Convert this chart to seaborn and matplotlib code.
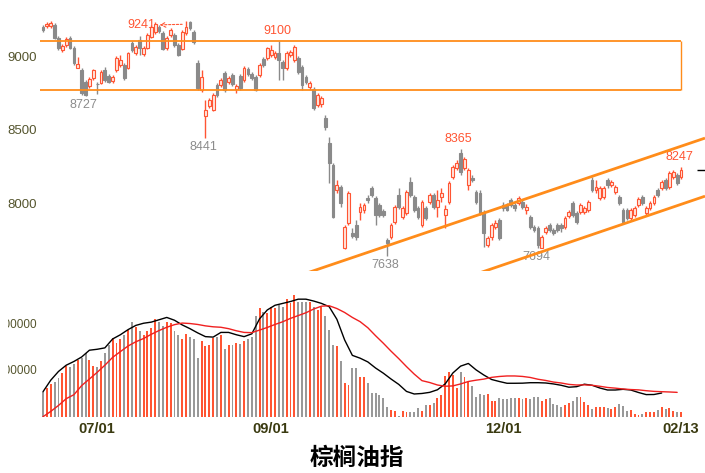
import matplotlib
matplotlib.use("Agg")
import matplotlib.pyplot as plt
import seaborn as sns
import numpy as np
import pandas as pd
from matplotlib.transforms import Bbox

# ---------------- data ----------------
opens = [9197, 9204, 9204, 9211, 9123, 9041, 9075, 9123, 9054, 8918,
         8905, 8823, 8796, 8850, 8812, 8816, 8905, 8864, 8830, 8905,
         8939, 8939, 8918, 9088, 9020, 9109, 9014, 9054, 9129, 9163,
         9197, 9156, 9054, 9143, 9143, 9075, 9048, 9156, 9231, 9163,
         8952, 8769, 8592, 8660, 8633, 8803, 8803, 8884, 8823, 8871,
         8776, 8864, 8837, 8912, 8878, 8857, 8871, 8980, 8986, 9007,
         8993, 9020, 8959, 8918, 9007, 8973, 8986, 8925, 8857, 8789,
         8776, 8667, 8673, 8578, 8408, 8259, 8089, 8109, 7694, 7864,
         7796, 7851, 7939, 7953, 8034, 8102, 8034, 7987, 7946, 7749,
         7769, 7871, 8055, 7905, 7932, 8143, 8041, 7966, 7851, 7966,
         8007, 8055, 7973, 8041, 7919, 8007, 8177, 8238, 8340, 8238,
         8123, 8170, 8075, 8068, 7939, 7715, 7769, 7837, 7885, 7987,
         7987, 8021, 7987, 8000, 8007, 7953, 7905, 7837, 7830, 7694,
         7803, 7851, 7817, 7851, 7851, 7837, 7912, 8000, 7932, 7939,
         7939, 7953, 8157, 8089, 8034, 8041, 8157, 8123, 8075, 8041,
         7953, 7953, 7898, 7919, 7987, 8041, 7932, 7966, 8000, 8089,
         8102, 8157, 8109, 8177, 8191, 8177]
highs = [9211, 9231, 9235, 9224, 9136, 9082, 9129, 9136, 9068, 8993,
         8918, 8837, 8857, 8912, 8820, 8905, 8925, 8878, 8871, 9000,
         9007, 8952, 9027, 9102, 9075, 9136, 9068, 9156, 9211, 9231,
         9211, 9170, 9136, 9190, 9156, 9088, 9177, 9241, 9238, 9177,
         8973, 8905, 8701, 8714, 8748, 8816, 8850, 8898, 8864, 8884,
         8810, 8878, 8932, 8925, 8891, 8871, 8952, 8993, 9061, 9075,
         9034, 9100, 8973, 9034, 9041, 9075, 9000, 8939, 8871, 8830,
         8789, 8748, 8728, 8599, 8449, 8272, 8157, 8123, 7851, 8082,
         7830, 7885, 8000, 8000, 8055, 8116, 8048, 8000, 7960, 7762,
         7864, 7987, 8102, 7980, 8089, 8177, 8055, 7980, 8021, 7980,
         8068, 8068, 8089, 8102, 7987, 8150, 8259, 8293, 8365, 8313,
         8238, 8191, 8089, 8089, 7953, 7776, 7864, 7885, 7898, 8007,
         8000, 8034, 8000, 8048, 8021, 7994, 7919, 7851, 7844, 7783,
         7844, 7864, 7830, 7864, 7864, 7912, 7953, 8014, 7946, 8000,
         7980, 8021, 8177, 8157, 8116, 8116, 8170, 8157, 8123, 8055,
         7966, 7966, 7966, 7980, 8041, 8055, 7980, 8014, 8055, 8102,
         8157, 8170, 8218, 8225, 8204, 8247]
lows = [9163, 9190, 9190, 9116, 9041, 9027, 9061, 9048, 8939, 8918,
        8735, 8727, 8782, 8837, 8740, 8810, 8823, 8816, 8816, 8891,
        8925, 8837, 8912, 9027, 9007, 9007, 9000, 9048, 9123, 9150,
        9156, 9041, 9041, 9129, 9061, 9000, 9041, 9143, 9177, 9082,
        8769, 8755, 8441, 8646, 8626, 8721, 8789, 8755, 8810, 8796,
        8748, 8769, 8823, 8864, 8837, 8762, 8857, 8925, 8973, 8993,
        8980, 8837, 8837, 8905, 8993, 8959, 8878, 8769, 8810, 8769,
        8633, 8653, 8653, 8497, 8136, 7898, 8068, 7973, 7688, 7851,
        7762, 7749, 7885, 7932, 8000, 8041, 7851, 7905, 7905, 7638,
        7756, 7858, 7960, 7892, 7919, 8041, 7939, 7892, 7837, 7885,
        7994, 7960, 7905, 8007, 7830, 7994, 8164, 8225, 8191, 8225,
        8089, 8143, 7994, 7919, 7701, 7701, 7749, 7824, 7749, 7946,
        7946, 7973, 7946, 7987, 7960, 7926, 7824, 7803, 7694, 7696,
        7790, 7803, 7783, 7803, 7803, 7824, 7898, 7905, 7858, 7926,
        7926, 7939, 8075, 8068, 8021, 8028, 8102, 8109, 8062, 7987,
        7858, 7885, 7885, 7905, 7973, 7987, 7919, 7953, 7987, 8041,
        8089, 8089, 8096, 8164, 8123, 8164]
closes = [9177, 9218, 9225, 9123, 9054, 9068, 9116, 9054, 8952, 8946,
          8748, 8735, 8844, 8905, 8808, 8891, 8837, 8823, 8857, 8986,
          8973, 8850, 9020, 9041, 9061, 9054, 9054, 9143, 9197, 9218,
          9170, 9048, 9123, 9177, 9075, 9007, 9163, 9197, 9190, 9095,
          8782, 8857, 8633, 8701, 8735, 8735, 8837, 8769, 8850, 8810,
          8796, 8782, 8918, 8878, 8850, 8769, 8939, 8939, 9054, 9041,
          9020, 8973, 8918, 9020, 9027, 9061, 8891, 8803, 8823, 8816,
          8646, 8735, 8714, 8517, 8272, 7905, 8123, 8000, 7837, 8068,
          7776, 7769, 7973, 7987, 8021, 8055, 7919, 7919, 7919, 7728,
          7851, 7973, 7973, 7966, 8075, 8055, 7953, 7905, 8007, 7898,
          8055, 7973, 8021, 8068, 7960, 8136, 8245, 8272, 8211, 8300,
          8225, 8157, 8007, 7932, 7796, 7762, 7851, 7864, 7762, 7966,
          7953, 7987, 7966, 8034, 7973, 7973, 7837, 7817, 7715, 7769,
          7830, 7817, 7796, 7817, 7830, 7898, 7939, 7919, 7871, 7987,
          7966, 8007, 8089, 8109, 8102, 8102, 8123, 8143, 8109, 8000,
          7871, 7898, 7953, 7966, 8028, 8000, 7966, 8000, 8041, 8055,
          8143, 8102, 8204, 8211, 8136, 8225]
volumes = [53000, 61000, 70000, 75000, 83000, 93000, 108000, 106000, 113000, 121000,
           126000, 136000, 121000, 108000, 106000, 119000, 137000, 153000, 168000, 158000,
           166000, 175000, 185000, 203000, 192000, 182000, 175000, 182000, 189000, 209000,
           203000, 194000, 203000, 200000, 184000, 175000, 166000, 177000, 171000, 166000,
           125000, 162000, 150000, 153000, 168000, 171000, 175000, 145000, 153000, 153000,
           157000, 155000, 162000, 166000, 171000, 215000, 232000, 224000, 221000, 235000,
           232000, 239000, 235000, 251000, 243000, 260000, 244000, 244000, 244000, 246000,
           234000, 228000, 235000, 215000, 185000, 153000, 150000, 118000, 72000,
           68000, 104000, 104000, 85000, 85000, 73000, 51000, 50000, 46000, 40000,
           21000, 14000, 13000, 2000, 13000, 11000, 9000, 11000, 19000, 12000,
           25000, 25000, 30000, 40000, 46000, 87000, 96000, 89000, 61000, 96000,
           85000, 75000, 65000, 42000, 48000, 46000, 48000, 33000, 34000, 40000,
           38000, 38000, 40000, 39000, 39000, 38000, 40000, 37000, 43000, 42000,
           34000, 37000, 40000, 27000, 24000, 21000, 25000, 29000, 33000, 42000,
           42000, 32000, 25000, 16000, 21000, 21000, 20000, 18000, 17000, 21000,
           27000, 22000, 13000, 14000, 6000, 4000, 5000, 11000, 11000, 11000,
           14000, 20000, 17000, 18000, 13000, 11000, 9000]
# two average lines of the lower panel, read every 2nd session
line_days = list(range(0, 165, 2))
avg_black = [53400, 78000, 96600, 110000, 118000, 127600, 142000, 144000, 147000, 166000,
             175000, 186000, 195000, 199600, 202000, 207000, 212000, 206000, 196000, 188000,
             179000, 171000, 170000, 180000, 180000, 175000, 171000, 177000, 209000, 228000,
             238000, 242000, 246000, 251000, 251000, 247000, 242000, 235000, 208000, 164000,
             131000, 125000, 117000, 104000, 93000, 80500, 69000, 54000, 48500, 49600,
             52000, 57500, 70000, 93400, 108000, 113700, 100000, 89000, 79500, 75200,
             71400, 71400, 71600, 72600, 72600, 72000, 70000, 67100, 63000, 64100,
             69400, 67100, 61300, 57000, 57000, 58500, 57000, 51700, 47200, 47400,
             50600]
avg_red = [0, 11300, 24000, 38500, 47000, 66500, 80500, 94700, 110000, 126700,
           139000, 151000, 160000, 167000, 176000, 184000, 191000, 196600, 200000, 199000,
           197000, 194000, 192000, 191000, 188000, 183500, 180000, 179500, 185000, 190600,
           197000, 202800, 210000, 216000, 222000, 230000, 236000, 237000, 231000, 222600,
           212000, 203000, 190000, 173000, 157000, 140000, 124000, 107000, 91000, 77000,
           73000, 67700, 65000, 65800, 70000, 75200, 78000, 80300, 84000, 85900,
           87000, 87000, 86000, 83800, 80000, 77400, 74000, 72000, 69000, 67700,
           68000, 67100, 65000, 62400, 61000, 59200, 58000, 57300, 55500, 54100,
           53400, 52800, 52000]
tick_days = [14, 59, 119, 165]
tick_labels = ["07/01", "09/01", "12/01", "02/13"]
price_ticks = [8000, 8500, 9000]
vol_ticks = [100000, 200000]
range_top, range_bottom = 9100, 8770
channel_upper_days, channel_upper_px = [70, 171], [7540, 8440]
channel_lower_days, channel_lower_px = [114, 171], [7535, 8045]
marked_highs = [37, 61, 108, 165]
marked_lows = [11, 42, 89, 128]
title = "棕榈油指"

# ---------------- style ----------------
sns.set_theme(style="white")
plt.rcParams["font.family"] = ["Liberation Sans", "DejaVu Sans"]

RED = "#FF5533"
RED_FILL = "#FFE6DE"
GRAY = "#8A8A8A"
ORANGE = "#FF8C1A"
LABEL = "#55552E"
XLABEL = "#3A3A10"

W, H = 705, 473
fig = plt.figure(figsize=(W / 100, H / 100), dpi=100, facecolor="white")
ax_p = fig.add_axes([40 / W, 1 - 271 / H, 665 / W, 266 / H])
ax_v = fig.add_axes([40 / W, 1 - 416.7 / H, 665 / W, 129.7 / H], sharex=ax_p)

df = pd.DataFrame({"o": opens, "h": highs, "l": lows, "c": closes, "v": volumes})
df["day"] = np.arange(len(df))
up = df["c"] >= df["o"]
edge = np.where(up, RED, GRAY)
face = np.where(up, RED_FILL, GRAY)

# candles
ax_p.vlines(df["day"], df["l"], df["h"], colors=edge, lw=1.0, zorder=2)
body_h = (df["c"] - df["o"]).abs().clip(lower=3)
body_b = df[["o", "c"]].min(axis=1)
ax_p.bar(df["day"], body_h, bottom=body_b, width=0.72, color=face,
         edgecolor=edge, linewidth=0.8, zorder=3)

# range box
x_left, x_right = -0.78, 171.2
last = len(df) - 1
ax_p.hlines([range_top, range_bottom], x_left, last, colors=ORANGE, lw=1.3, zorder=4)
ax_p.vlines(last, range_bottom, range_top, colors=ORANGE, lw=1.0, zorder=4)

# channel lines
for dd, pp in [(channel_upper_days, channel_upper_px), (channel_lower_days, channel_lower_px)]:
    slope = (pp[1] - pp[0]) / (dd[1] - dd[0])
    xs = np.array([x_left, x_right])
    ax_p.plot(xs, pp[0] + slope * (xs - dd[0]), color=ORANGE, lw=2.0, zorder=4,
              solid_capstyle="butt")

# last close marker
ax_p.hlines(closes[-1], 169.2, x_right, colors="black", lw=1.0, zorder=5)

# high / low labels
for i in marked_highs:
    if i == 37:
        ax_p.annotate(str(highs[i]), xy=(i - 0.3, highs[i] - 25), xycoords="data",
                      xytext=(-30, -1), textcoords="offset pixels",
                      ha="right", va="center", color=RED, fontsize=9,
                      arrowprops=dict(arrowstyle="<-", color=RED, lw=0.8,
                                      linestyle=(0, (2, 1.5)), shrinkA=1, shrinkB=2))
    else:
        ax_p.annotate(str(highs[i]), xy=(i, highs[i]), xytext=(-2, 4),
                      textcoords="offset pixels", ha="center", va="bottom",
                      color=RED, fontsize=9)
for i in marked_lows:
    ax_p.annotate(str(lows[i]), xy=(i, lows[i]), xytext=(-2, -3),
                  textcoords="offset pixels", ha="center", va="top",
                  color="#8C8C8C", fontsize=9)

ax_p.set_ylim(7538, 9347)
ax_p.set_xlim(x_left, x_right)
ax_p.set_yticks(price_ticks)
ax_p.set_yticklabels([str(t) for t in price_ticks])
ax_p.tick_params(axis="y", length=0, pad=2, labelsize=9.5, labelcolor=LABEL)
ax_p.tick_params(axis="x", bottom=False, labelbottom=False)
for s in ax_p.spines.values():
    s.set_visible(False)
ax_p.patch.set_alpha(0)

# volume
vcol = np.where(up, RED, "#999999")
ax_v.bar(df["day"], df["v"], width=0.5, color=vcol, linewidth=0)
sns.lineplot(x=line_days[:len(avg_black)], y=avg_black, ax=ax_v, color="black", lw=1.0)
sns.lineplot(x=line_days[:len(avg_red)], y=avg_red, ax=ax_v, color="#F02020", lw=1.0)
ax_v.set_ylim(0, 277000)
ax_v.set_yticks(vol_ticks)
ax_v.set_yticklabels([str(t) for t in vol_ticks])
ax_v.tick_params(axis="y", length=0, pad=2, labelsize=8.5, labelcolor=LABEL)
ax_v.set_xticks(tick_days)
ax_v.set_xticklabels(tick_labels, fontweight="bold")
ax_v.tick_params(axis="x", length=0, pad=4, labelsize=10.5, labelcolor=XLABEL)
ax_v.set_xlabel("")
ax_v.set_ylabel("")
for s in ax_v.spines.values():
    s.set_visible(False)
ax_v.patch.set_alpha(0)

fig.text(357 / W, 1 - 458 / H, title, ha="center", va="center", fontsize=17,
         fontweight="bold", family=["Noto Sans CJK SC", "DejaVu Sans"], color="black")

fig.canvas.draw()
clip = Bbox.from_extents(8, 0, W, H)
for t in ax_v.yaxis.get_major_ticks():
    t.label1.set_clip_box(clip)
    t.label1.set_clip_on(True)

fig.savefig("out.png", dpi=100, facecolor="white")
